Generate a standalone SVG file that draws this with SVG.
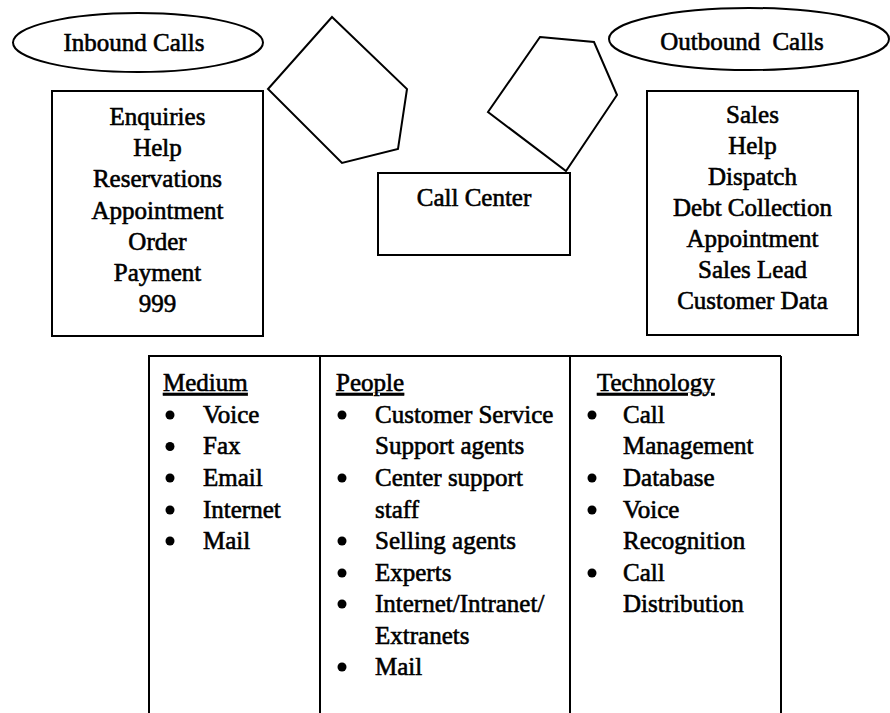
<svg xmlns="http://www.w3.org/2000/svg" width="890" height="713" viewBox="0 0 890 713">
<style>
.s{fill:none;stroke:#000;stroke-width:2}
.t{font-family:"Liberation Serif","Times New Roman",serif;font-size:25px;fill:#000;stroke:#000;stroke-width:0.6}
.c{text-anchor:middle}
.u{text-decoration:underline}
.b{fill:#000}
</style>
<rect width="890" height="713" fill="#fff"/>
<g id="inbound-calls">
<ellipse class="s" cx="138" cy="42.5" rx="125" ry="29.5"/>
<text class="t c" x="134" y="51">Inbound Calls</text>
</g>
<g id="outbound-calls">
<ellipse class="s" cx="749" cy="39" rx="140" ry="31"/>
<text class="t c" x="742" y="50" style="word-spacing:6px">Outbound Calls</text>
</g>
<g id="pentagon-left">
<polygon class="s" points="332,17 407,89 398,149 342,163 268,89"/>
</g>
<g id="pentagon-right">
<polygon class="s" points="540,37 594,42 617,95 566,171 488,112"/>
</g>
<g id="inbound-list">
<rect class="s" x="52" y="91" width="211" height="245"/>
<text class="t c" x="157.5" y="125">Enquiries</text>
<text class="t c" x="157.5" y="156">Help</text>
<text class="t c" x="157.5" y="187">Reservations</text>
<text class="t c" x="157.5" y="219">Appointment</text>
<text class="t c" x="157.5" y="250">Order</text>
<text class="t c" x="157.5" y="281">Payment</text>
<text class="t c" x="157.5" y="312">999</text>
</g>
<g id="call-center">
<rect class="s" x="378" y="173" width="192" height="82"/>
<text class="t c" x="474" y="206">Call Center</text>
</g>
<g id="outbound-list">
<rect class="s" x="647" y="91" width="211" height="244"/>
<text class="t c" x="752.5" y="123">Sales</text>
<text class="t c" x="752.5" y="154">Help</text>
<text class="t c" x="752.5" y="185">Dispatch</text>
<text class="t c" x="752.5" y="216">Debt Collection</text>
<text class="t c" x="752.5" y="247">Appointment</text>
<text class="t c" x="752.5" y="278">Sales Lead</text>
<text class="t c" x="752.5" y="309">Customer Data</text>
</g>
<g id="connectors"></g>
<g id="table">
<path class="s" d="M148,356 H781 M149,356 V713 M320,356 V713 M570,356 V713 M781,356 V713"/>
</g>
<g id="medium">
<text class="t u" x="163" y="391">Medium</text>
<circle class="b" cx="170" cy="415" r="4.5"/><text class="t" x="203" y="423">Voice</text>
<circle class="b" cx="170" cy="446.5" r="4.5"/><text class="t" x="203" y="454">Fax</text>
<circle class="b" cx="170" cy="478" r="4.5"/><text class="t" x="203" y="486">Email</text>
<circle class="b" cx="170" cy="510" r="4.5"/><text class="t" x="203" y="518">Internet</text>
<circle class="b" cx="170" cy="541" r="4.5"/><text class="t" x="203" y="549">Mail</text>
</g>
<g id="people">
<text class="t u" x="336" y="391">People</text>
<circle class="b" cx="342" cy="415" r="4.5"/><text class="t" x="375" y="423">Customer Service</text>
<text class="t" x="375" y="454">Support agents</text>
<circle class="b" cx="342" cy="478" r="4.5"/><text class="t" x="375" y="486">Center support</text>
<text class="t" x="375" y="518">staff</text>
<circle class="b" cx="342" cy="541" r="4.5"/><text class="t" x="375" y="549">Selling agents</text>
<circle class="b" cx="342" cy="573" r="4.5"/><text class="t" x="375" y="581">Experts</text>
<circle class="b" cx="342" cy="604" r="4.5"/><text class="t" x="375" y="612">Internet/Intranet/</text>
<text class="t" x="375" y="644">Extranets</text>
<circle class="b" cx="342" cy="667" r="4.5"/><text class="t" x="375" y="675">Mail</text>
</g>
<g id="technology">
<text class="t u" x="597" y="391">Technology</text>
<circle class="b" cx="592" cy="415" r="4.5"/><text class="t" x="623" y="423">Call</text>
<text class="t" x="623" y="454">Management</text>
<circle class="b" cx="592" cy="478" r="4.5"/><text class="t" x="623" y="486">Database</text>
<circle class="b" cx="592" cy="510" r="4.5"/><text class="t" x="623" y="518">Voice</text>
<text class="t" x="623" y="549">Recognition</text>
<circle class="b" cx="592" cy="573" r="4.5"/><text class="t" x="623" y="581">Call</text>
<text class="t" x="623" y="612">Distribution</text>
</g>
</svg>
